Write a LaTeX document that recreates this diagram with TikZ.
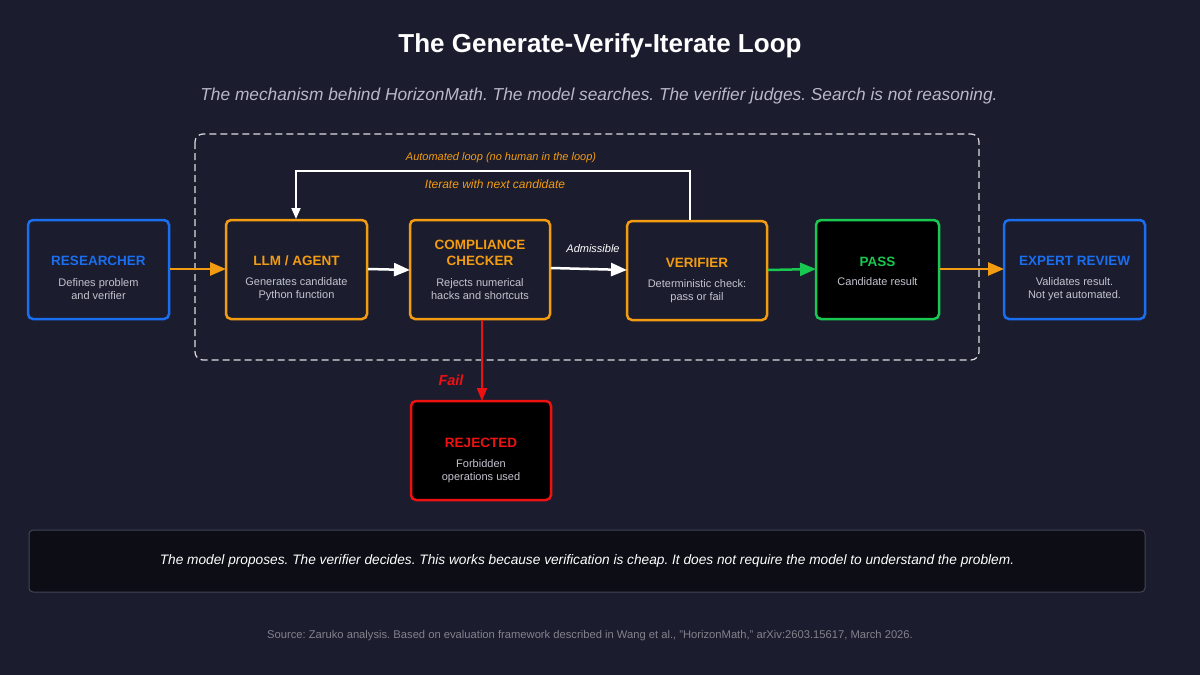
\documentclass[tikz,border=0pt]{standalone}
\usepackage{fontspec}
\setmainfont{Liberation Sans}
\usetikzlibrary{arrows.meta}
\definecolor{bg}{HTML}{1B1C2E}
\definecolor{org}{HTML}{F39C12}
\definecolor{blu}{HTML}{1A6EF0}
\definecolor{grn}{HTML}{18C850}
\definecolor{rd}{HTML}{EE1111}
\definecolor{txt}{HTML}{C4C4D0}
\definecolor{sub}{HTML}{B8B8C8}
\begin{document}
\frenchspacing
\begin{tikzpicture}[x=1pt,y=-1pt,
 box/.style={draw=#1,line width=2.5pt,rounded corners=5pt,fill=bg},
 ttl/.style={font=\fontsize{13.5}{16}\selectfont\bfseries,text=#1,align=center},
 bod/.style={font=\fontsize{11}{13.5}\selectfont,text=txt,align=center},
 arr/.style={draw=#1,line width=2.5pt,-{Triangle[length=16pt,width=13pt]}}]
\fill[bg] (0,0) rectangle (1200,675);
\useasboundingbox (0,0) rectangle (1200,675);
\node[font=\fontsize{26}{30}\selectfont\bfseries,text=white] (title) at (600,46) {The Generate-Verify-Iterate Loop};
\node[font=\fontsize{17.3}{20}\selectfont\itshape,text=sub] (subt) at (599,96) {The mechanism behind HorizonMath. The model searches. The verifier judges. Search is not reasoning.};
\draw[white!85!bg,line width=1.2pt,dash pattern=on 7pt off 4pt,rounded corners=8pt] (195,134) rectangle (979,360);
% boxes
\draw[box=blu] (28,220) rectangle (169,319);
\node[ttl=blu] (resT) at (98.5,261) {RESEARCHER};
\node[bod] (resB) at (98.5,289) {Defines problem\\and verifier};
\draw[box=org] (226,220) rectangle (367,319);
\node[ttl=org] (llmT) at (296.5,261) {LLM / AGENT};
\node[bod] (llmB) at (296.5,289) {Generates candidate\\Python function};
\draw[box=org] (410,220) rectangle (550,319);
\node[ttl=org] (ccT) at (480,253) {COMPLIANCE\\CHECKER};
\node[bod] (ccB) at (480,289) {Rejects numerical\\hacks and shortcuts};
\draw[box=org] (627,221) rectangle (767,320);
\node[ttl=org] (verT) at (697,263) {VERIFIER};
\node[bod] (verB) at (697,291) {Deterministic check:\\pass or fail};
\draw[box=grn,fill=black] (816,220) rectangle (939,319);
\node[ttl=grn] (passT) at (877.5,262) {PASS};
\node[bod] (passB) at (877.5,282) {Candidate result};
\draw[box=blu] (1004,220) rectangle (1145,319);
\node[ttl=blu] (expT) at (1074.5,261) {EXPERT REVIEW};
\node[bod] (expB) at (1074.5,289) {Validates result.\\Not yet automated.};
\draw[box=rd,fill=black] (411,401) rectangle (551,500);
\node[ttl=rd] (rejT) at (481,443) {REJECTED};
\node[bod] (rejB) at (481,471) {Forbidden\\operations used};
% anchors
\coordinate (a1) at (170,269); \coordinate (a2) at (226,269);
\coordinate (b1) at (368,269); \coordinate (b2) at (410,270);
\coordinate (c1) at (551,268); \coordinate (c2) at (627,270);
\coordinate (d1) at (768,270); \coordinate (d2) at (816,269);
\coordinate (e1) at (940,269); \coordinate (e2) at (1004,269);
\coordinate (f1) at (482,320); \coordinate (f2) at (482,401);
\coordinate (g1) at (690,220); \coordinate (g2) at (296,219);
\path[arr=org] (a1) -- (a2);
\path[arr=white] (b1) -- (b2);
\path[arr=white] (c1) -- (c2);
\path[arr=grn] (d1) -- (d2);
\path[arr=org] (e1) -- (e2);
\draw[rd,line width=2pt,-{Triangle[length=13pt,width=10pt]}] (f1) -- (f2);
\draw[white,line width=1.8pt,-{Triangle[length=11pt,width=9pt]}] (g1) |- (490,171) -| (g2);
\node[font=\fontsize{11}{13}\selectfont\itshape,text=white] (adm) at (593,249) {Admissible};
\node[font=\fontsize{14.5}{16}\selectfont\bfseries\itshape,text=rd] (fail) at (451,380) {Fail};
\node[font=\fontsize{11}{13}\selectfont\itshape,text=org] (auto) at (501,158) {Automated loop (no human in the loop)};
\node[font=\fontsize{12}{14}\selectfont\itshape,text=org] (iter) at (495,184) {Iterate with next candidate};
% bottom
\draw[draw=white!18!bg,fill=black!55!bg,line width=1pt,rounded corners=4pt] (29,530) rectangle (1145,592);
\node[font=\fontsize{13.7}{16}\selectfont\itshape,text=white] (note) at (587,561) {The model proposes. The verifier decides. This works because verification is cheap. It does not require the model to understand the problem.};
\node[font=\fontsize{11.2}{13}\selectfont,text=white!45!bg] (src) at (590,636) {Source: Zaruko analysis. Based on evaluation framework described in Wang et al., "HorizonMath," arXiv:2603.15617, March 2026.};
\end{tikzpicture}
\end{document}
